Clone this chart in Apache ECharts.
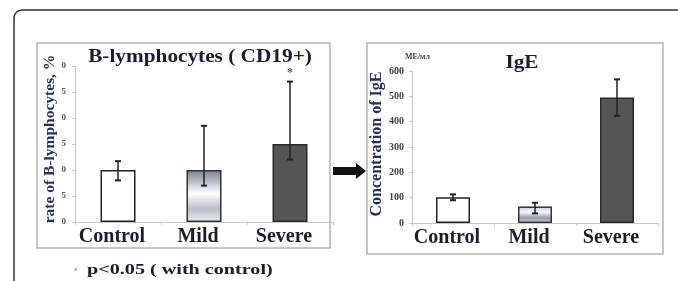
<!DOCTYPE html>
<html>
<head>
<meta charset="utf-8">
<script src="https://cdn.jsdelivr.net/npm/echarts@6/dist/echarts.min.js"></script>
<style>
html,body{margin:0;padding:0;background:#fff;}
#c{width:678px;height:281px;}
</style>
</head>
<body>
<div id="c"></div>
<script>
// ---- data ----
const categories = ['Control', 'Mild', 'Severe'];
const bTitle = 'B-lymphocytes ( CD19+)';
const bAxisName = 'rate of B-lymphocytes, %';
const bValues = [10, 10, 15];
const bErrLow = [8, 7, 12];
const bErrHigh = [11.7, 18.5, 27];
const bSigMarks = ['', '', '*'];
const bTickLabels = ['0', '5', '0', '5', '0', '5', '0'];

const igeTitle = 'IgE';
const igeUnit = 'ME/мл';
const igeAxisName = 'Concentration of IgE';
const igeValues = [102, 65, 495];
const igeErrLow = [90, 38, 423];
const igeErrHigh = [113, 80, 567];
const igeTickLabels = ['0', '100', '200', '300', '400', '500', '600'];

const footnote = 'p<0.05 ( with control)';

// ---- styles ----
const serif = '"Liberation Serif", "Times New Roman", serif';
const mildGradient = {
  type: 'linear', x: 0, y: 0, x2: 0, y2: 1,
  colorStops: [
    {offset: 0, color: '#7a8192'},
    {offset: 0.15, color: '#a3a8b5'},
    {offset: 0.45, color: '#ffffff'},
    {offset: 0.75, color: '#b9bdc7'},
    {offset: 1, color: '#eceef2'}
  ]
};
const mildGradient2 = {
  type: 'linear', x: 0, y: 0, x2: 0, y2: 1,
  colorStops: [
    {offset: 0, color: '#c9ccd4'},
    {offset: 0.35, color: '#f4f5f7'},
    {offset: 0.7, color: '#959aa9'},
    {offset: 1, color: '#d6d8de'}
  ]
};
const fills = ['#ffffff', null, '#555555'];
const borders = ['#222222', '#333333', '#2a2a2a'];

function barData(vals, mild) {
  return vals.map((v, i) => ({
    value: v,
    itemStyle: {
      color: i === 1 ? mild : fills[i],
      borderColor: borders[i],
      borderWidth: 1.5
    }
  }));
}
function errData(lo, hi) {
  return lo.map((l, i) => [i, l, hi[i]]);
}
function errRender(params, api) {
  const lo = api.coord([api.value(0), api.value(1)]);
  const hi = api.coord([api.value(0), api.value(2)]);
  const cap = 3;
  const st = {stroke: '#222', lineWidth: 1.5};
  return {
    type: 'group',
    children: [
      {type: 'line', shape: {x1: lo[0], y1: lo[1], x2: hi[0], y2: hi[1]}, style: st},
      {type: 'line', shape: {x1: lo[0] - cap, y1: lo[1], x2: lo[0] + cap, y2: lo[1]}, style: {stroke: '#222', lineWidth: 2}},
      {type: 'line', shape: {x1: hi[0] - cap, y1: hi[1], x2: hi[0] + cap, y2: hi[1]}, style: {stroke: '#222', lineWidth: 2}}
    ]
  };
}
function sigRender(params, api) {
  const i = params.dataIndex;
  const mark = bSigMarks[i];
  if (!mark) return null;
  const p = api.coord([api.value(0), api.value(1)]);
  return {
    type: 'text',
    x: p[0], y: p[1] - 3,
    style: {text: mark, fill: '#555', font: 'bold 12px ' + serif, textAlign: 'center', textVerticalAlign: 'bottom'}
  };
}

const catAxis = (gi) => ({
  type: 'category', gridIndex: gi, data: categories,
  axisLine: {lineStyle: {color: '#c8c8c8', width: 1}},
  axisTick: {show: true, alignWithLabel: false, length: 3, lineStyle: {color: '#c8c8c8'}},
  axisLabel: {interval: 0, hideOverlap: false, fontFamily: serif, fontWeight: 'bold', fontSize: 20, color: '#1a1d2b', margin: 5,
    padding: [0, 12, 0, 0]}
});

const chart = echarts.init(document.getElementById('c'), null, {renderer: 'canvas'});
chart.setOption({
  backgroundColor: '#ffffff',
  animation: false,
  grid: [
    {left: 75, top: 66, width: 258, height: 156},
    {left: 412, top: 71, width: 246, height: 152}
  ],
  xAxis: [catAxis(0), catAxis(1)],
  yAxis: [
    {
      type: 'value', gridIndex: 0, min: 0, max: 30, interval: 5,
      name: bAxisName, nameLocation: 'middle', nameGap: 17,
      nameTextStyle: {fontFamily: serif, fontWeight: 'bold', fontSize: 15.5, color: '#24305a', padding: [0, 0, 0, 10]},
      axisLine: {show: true, lineStyle: {color: '#c8c8c8'}},
      axisTick: {show: true, length: 3, lineStyle: {color: '#c8c8c8'}},
      splitLine: {show: false},
      axisLabel: {fontFamily: serif, fontWeight: 'bold', fontSize: 9, color: '#555', margin: 9,
        formatter: (v, idx) => bTickLabels[idx]}
    },
    {
      type: 'value', gridIndex: 1, min: 0, max: 600, interval: 100,
      name: igeAxisName, nameLocation: 'middle', nameGap: 27,
      nameTextStyle: {fontFamily: serif, fontWeight: 'bold', fontSize: 16, color: '#24305a', padding: [0, 0, 0, 6]},
      axisLine: {show: true, lineStyle: {color: '#c8c8c8'}},
      axisTick: {show: true, length: 3, lineStyle: {color: '#c8c8c8'}},
      splitLine: {show: false},
      axisLabel: {fontFamily: serif, fontWeight: 'bold', fontSize: 10, color: '#444', margin: 8,
        formatter: (v, idx) => igeTickLabels[idx]}
    }
  ],
  series: [
    {type: 'bar', xAxisIndex: 0, yAxisIndex: 0, barWidth: 35, data: barData(bValues, mildGradient), z: 2},
    {type: 'custom', xAxisIndex: 0, yAxisIndex: 0, renderItem: errRender, data: errData(bErrLow, bErrHigh), z: 3},
    {type: 'custom', xAxisIndex: 0, yAxisIndex: 0, renderItem: sigRender, data: bErrHigh.map((h, i) => [i, h]), z: 3},
    {type: 'bar', xAxisIndex: 1, yAxisIndex: 1, barWidth: 34, data: barData(igeValues, mildGradient2), z: 2},
    {type: 'custom', xAxisIndex: 1, yAxisIndex: 1, renderItem: errRender, data: errData(igeErrLow, igeErrHigh), z: 3}
  ],
  graphic: [
    // outer rounded frame
    {type: 'rect', shape: {x: 14, y: 10, width: 700, height: 300, r: 8}, style: {fill: 'none', stroke: '#333', lineWidth: 1.5}, z: 0},
    // panel boxes
    {type: 'rect', shape: {x: 37, y: 43, width: 293, height: 205}, style: {fill: 'none', stroke: '#b4b4b4', lineWidth: 1.5}, z: 0},
    {type: 'rect', shape: {x: 367, y: 43, width: 296, height: 211}, style: {fill: 'none', stroke: '#b4b4b4', lineWidth: 1.5}, z: 0},
    // titles
    {type: 'text', x: 200, y: 57, scaleX: 1.15, style: {text: bTitle, font: 'bold 18.5px ' + serif, fill: '#1c1c30', textAlign: 'center', textVerticalAlign: 'middle'}},
    {type: 'text', x: 522, y: 63, scaleX: 1.15, style: {text: igeTitle, font: 'bold 18.5px ' + serif, fill: '#1c1c30', textAlign: 'center', textVerticalAlign: 'middle'}},
    {type: 'text', x: 405, y: 57, style: {text: igeUnit, font: 'bold 8px ' + serif, fill: '#444', textAlign: 'left', textVerticalAlign: 'middle'}},
    // arrow
    {type: 'polygon', shape: {points: [[333, 167], [356, 167], [356, 163], [366, 171], [356, 179], [356, 175], [333, 175]]}, style: {fill: '#111'}},
    // footnote
    {type: 'text', x: 74, y: 270, style: {text: '•', font: '10px ' + serif, fill: '#999', textAlign: 'left', textVerticalAlign: 'middle'}},
    {type: 'text', x: 87, y: 270, scaleX: 1.3, style: {text: footnote, font: 'bold 15.5px ' + serif, fill: '#1c1c30', textAlign: 'left', textVerticalAlign: 'middle'}}
  ]
});
</script>
</body>
</html>
